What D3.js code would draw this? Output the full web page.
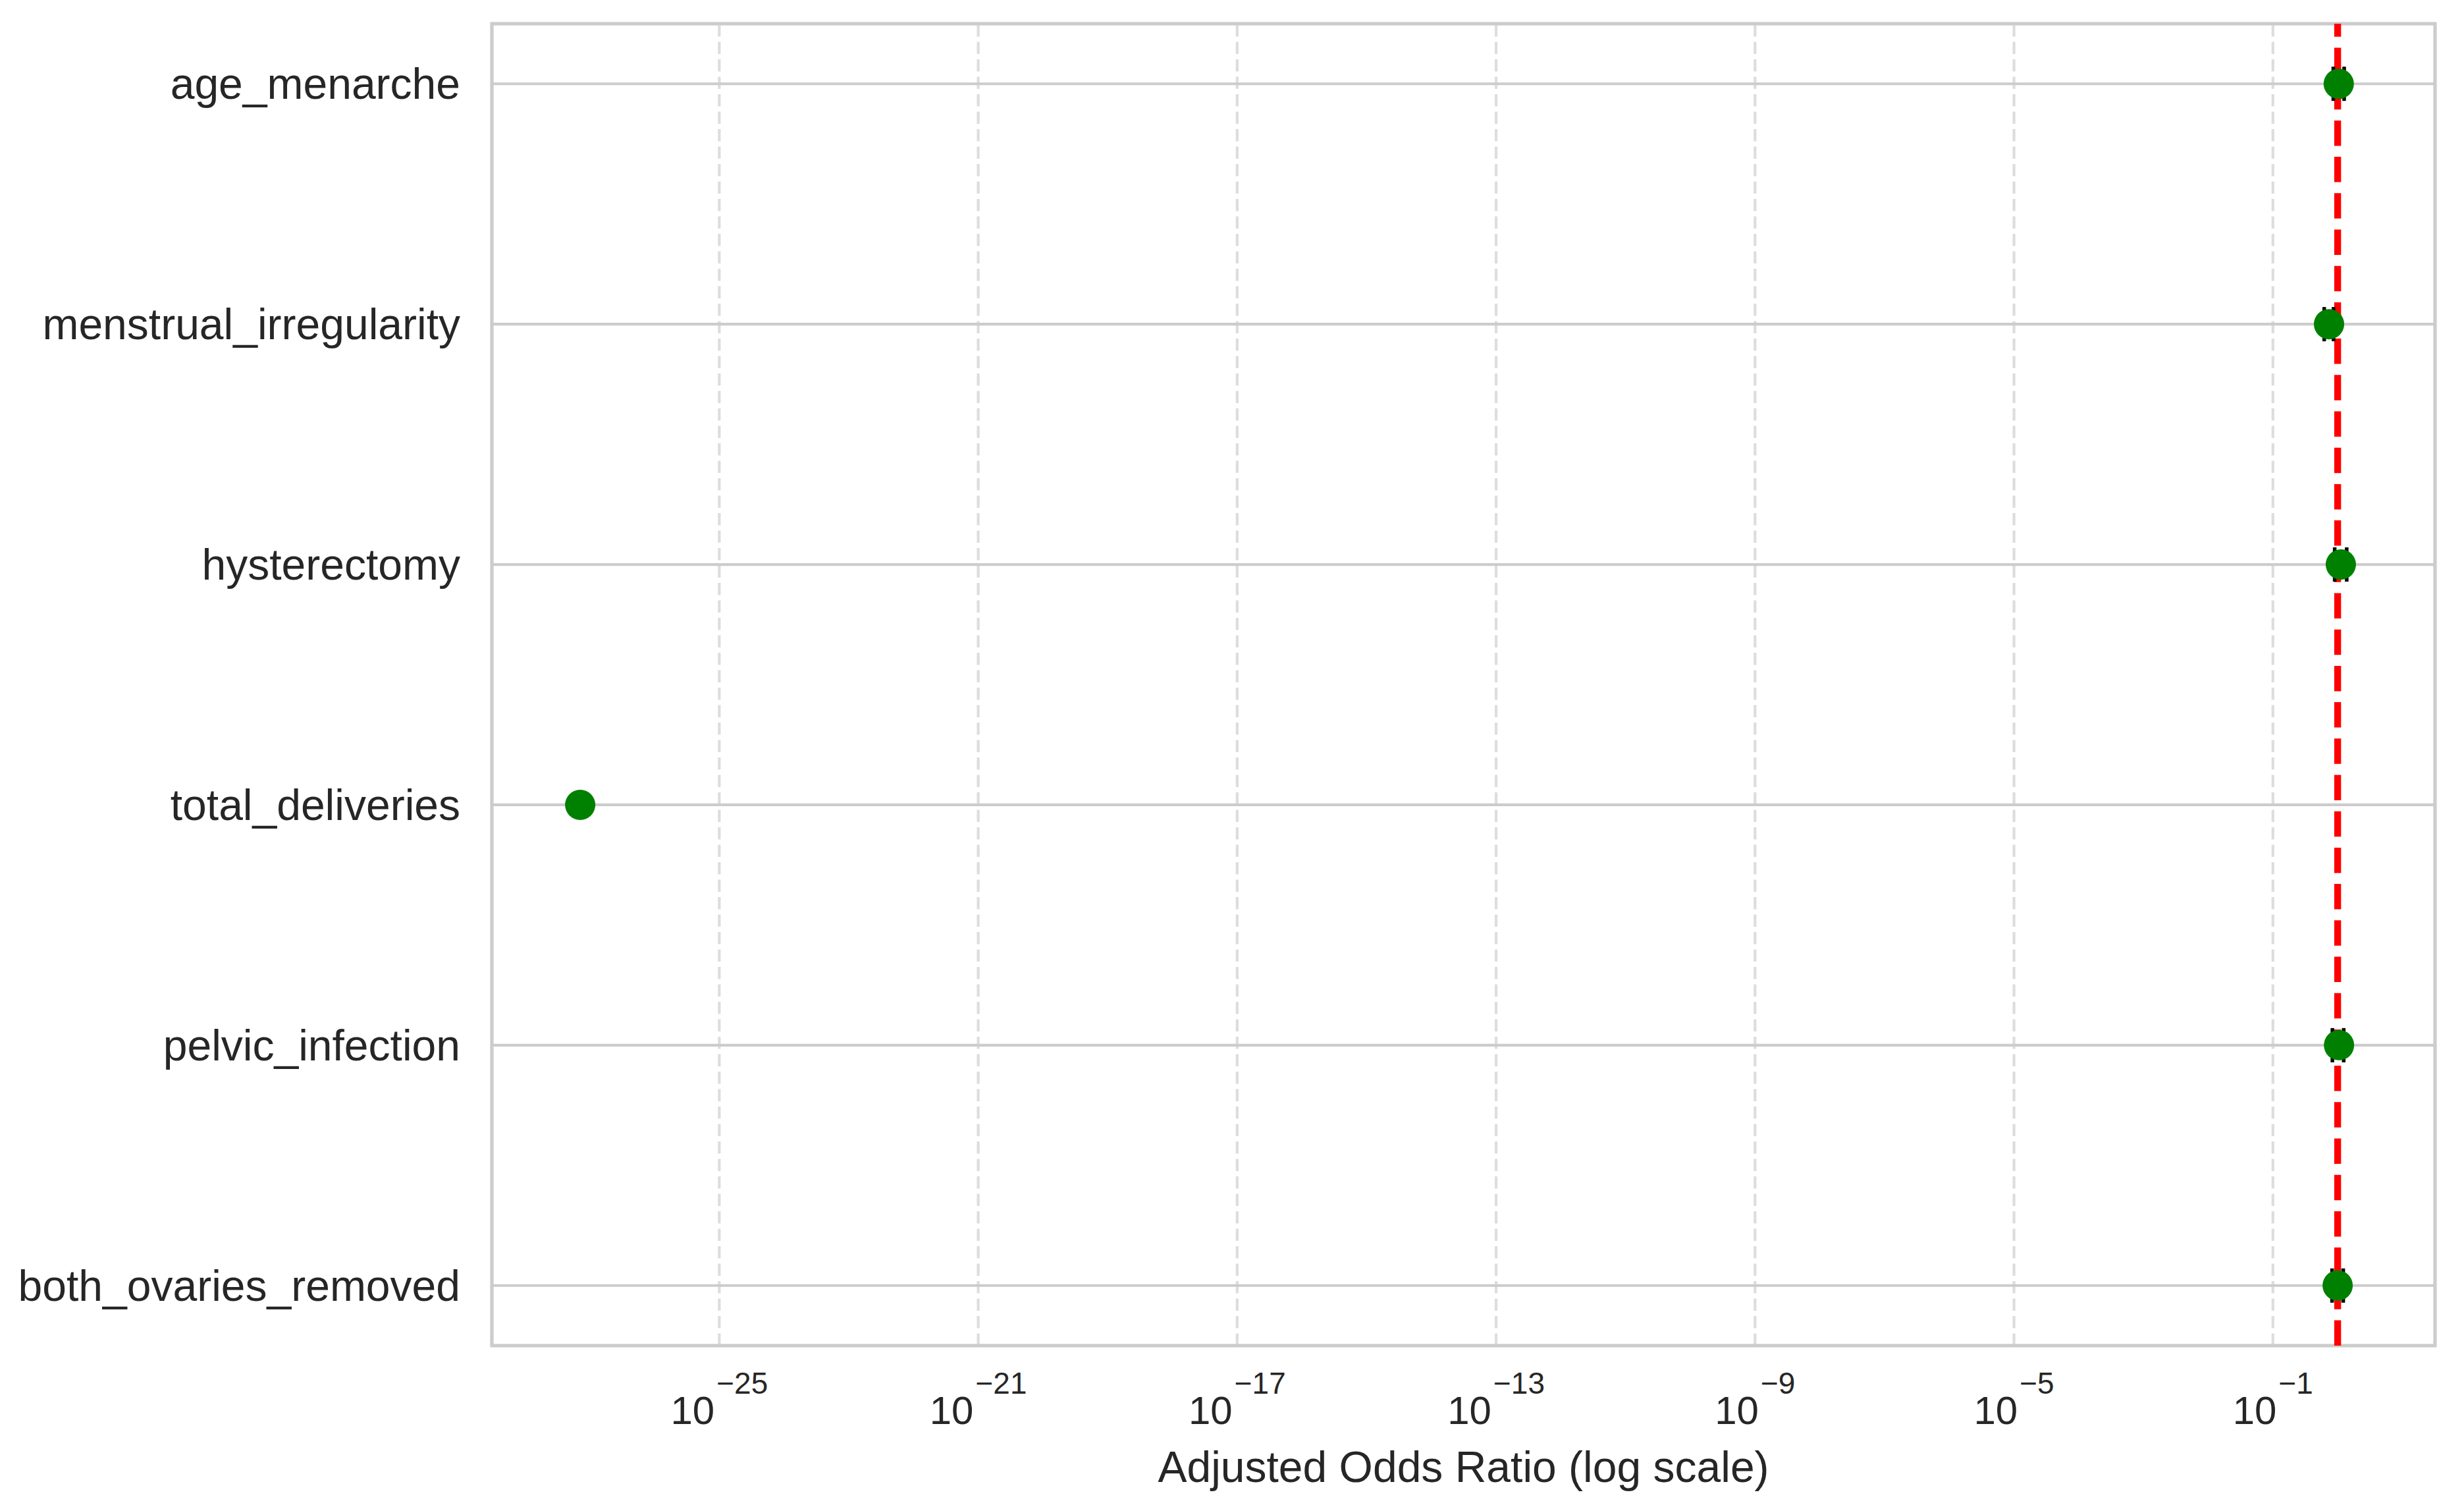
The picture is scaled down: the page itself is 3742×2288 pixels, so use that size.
<!DOCTYPE html>
<html lang="en">
    <head>
        <meta charset="UTF-8" />
        <title>Adjusted Odds Ratios</title>
        <script src="https://d3js.org/d3.v7.min.js"></script>
        <style>
            body {
                margin: 0;
                background: #fff;
            }

            svg {
                display: block;
                font-family: 'Liberation Sans', Arial, sans-serif;
            }

            .tick-label {
                font-size: 66px;
                fill: #262626;
            }

            .axis-label {
                font-size: 66px;
                fill: #262626;
            }
        </style>
    </head>
    <body>
        <svg width="3742" height="2288"></svg>

        <script>
            // values
            const variables = [
                'age_menarche',
                'menstrual_irregularity',
                'hysterectomy',
                'total_deliveries',
                'pelvic_infection',
                'both_ovaries_removed',
            ];
            const oddsRatios = [1.04, 0.736, 1.12, 7.1e-28, 1.05, 1.0];
            const ciLower = [0.857, 0.62, 0.9, null, 0.83, 0.82];
            const ciUpper = [1.26, 0.863, 1.38, null, 1.24, 1.22];
            const tickExponents = [-25, -21, -17, -13, -9, -5, -1];
            const referenceValue = 1;

            const svg = d3.select('svg'),
                margin = { top: 36, right: 44, bottom: 245, left: 747 },
                width = +svg.attr('width') - margin.left - margin.right,
                height = +svg.attr('height') - margin.top - margin.bottom;

            const g = svg.append('g').attr('transform', `translate(${margin.left},${margin.top})`);

            const rows = variables.map((name, i) => ({
                name,
                i,
                or: oddsRatios[i],
                lo: ciLower[i],
                hi: ciUpper[i],
            }));

            // log extent of everything plotted, padded 5% like matplotlib
            const allVals = oddsRatios.concat(ciLower, ciUpper).filter((v) => v != null);
            const logMin = Math.log10(d3.min(allVals)),
                logMax = Math.log10(d3.max(allVals)),
                pad = (logMax - logMin) * 0.05;

            const x = d3
                .scaleLog()
                .domain([Math.pow(10, logMin - pad), Math.pow(10, logMax + pad)])
                .range([0, width]);

            const y = d3
                .scaleLinear()
                .domain([-0.25, variables.length - 0.75])
                .range([0, height]);

            const tickValues = tickExponents.map((e) => Math.pow(10, e));

            // vertical dashed grid
            g.append('g')
                .selectAll('line')
                .data(tickValues)
                .join('line')
                .attr('x1', (d) => x(d))
                .attr('x2', (d) => x(d))
                .attr('y1', height)
                .attr('y2', 0)
                .attr('stroke', '#dddddd')
                .attr('stroke-width', 4.2)
                .attr('stroke-dasharray', '18.5,8');

            // horizontal grid
            g.append('g')
                .selectAll('line')
                .data(rows)
                .join('line')
                .attr('x1', 0)
                .attr('x2', width)
                .attr('y1', (d) => y(d.i))
                .attr('y2', (d) => y(d.i))
                .attr('stroke', '#cccccc')
                .attr('stroke-width', 4.2);

            // frame
            g.append('rect')
                .attr('width', width)
                .attr('height', height)
                .attr('fill', 'none')
                .attr('stroke', '#cccccc')
                .attr('stroke-width', 5.2);

            // reference line at OR = 1
            g.append('line')
                .attr('x1', x(referenceValue))
                .attr('x2', x(referenceValue))
                .attr('y1', height)
                .attr('y2', 0)
                .attr('stroke', 'red')
                .attr('stroke-width', 10.4)
                .attr('stroke-dasharray', '38.5,16.7');

            // error bars
            const withCi = rows.filter((d) => d.lo != null && d.hi != null);
            const capHalf = 26;

            const bars = g.append('g').selectAll('g').data(withCi).join('g');

            bars.append('line')
                .attr('x1', (d) => x(d.lo))
                .attr('x2', (d) => x(d.hi))
                .attr('y1', (d) => y(d.i))
                .attr('y2', (d) => y(d.i))
                .attr('stroke', '#000')
                .attr('stroke-width', 6);

            bars.selectAll('.cap')
                .data((d) => [
                    { v: d.lo, i: d.i },
                    { v: d.hi, i: d.i },
                ])
                .join('line')
                .attr('class', 'cap')
                .attr('x1', (d) => x(d.v))
                .attr('x2', (d) => x(d.v))
                .attr('y1', (d) => y(d.i) - capHalf)
                .attr('y2', (d) => y(d.i) + capHalf)
                .attr('stroke', '#000')
                .attr('stroke-width', 5.5);

            // points
            g.append('g')
                .selectAll('circle')
                .data(rows)
                .join('circle')
                .attr('cx', (d) => x(d.or))
                .attr('cy', (d) => y(d.i))
                .attr('r', 23)
                .attr('fill', '#008000');

            // y tick labels
            g.append('g')
                .selectAll('text')
                .data(rows)
                .join('text')
                .attr('class', 'tick-label')
                .attr('x', -48)
                .attr('y', (d) => y(d.i))
                .attr('dy', '0.35em')
                .attr('text-anchor', 'end')
                .text((d) => d.name);

            // x tick labels, 10 with superscript exponent
            const xTicks = g
                .append('g')
                .selectAll('text')
                .data(tickExponents)
                .join('text')
                .attr('class', 'tick-label')
                .attr('x', (d) => x(Math.pow(10, d)))
                .attr('y', height + 119)
                .attr('text-anchor', 'middle')
                .style('font-size', '60px');

            xTicks.append('tspan').text('10');
            xTicks
                .append('tspan')
                .attr('dx', 3)
                .attr('dy', -46)
                .style('font-size', '46px')
                .text((d) => (d < 0 ? '\u2212' : '') + Math.abs(d));

            // x axis title
            g.append('text')
                .attr('class', 'axis-label')
                .attr('x', width / 2)
                .attr('y', height + 207)
                .attr('text-anchor', 'middle')
                .text('Adjusted Odds Ratio (log scale)');
        </script>
    </body>
</html>
